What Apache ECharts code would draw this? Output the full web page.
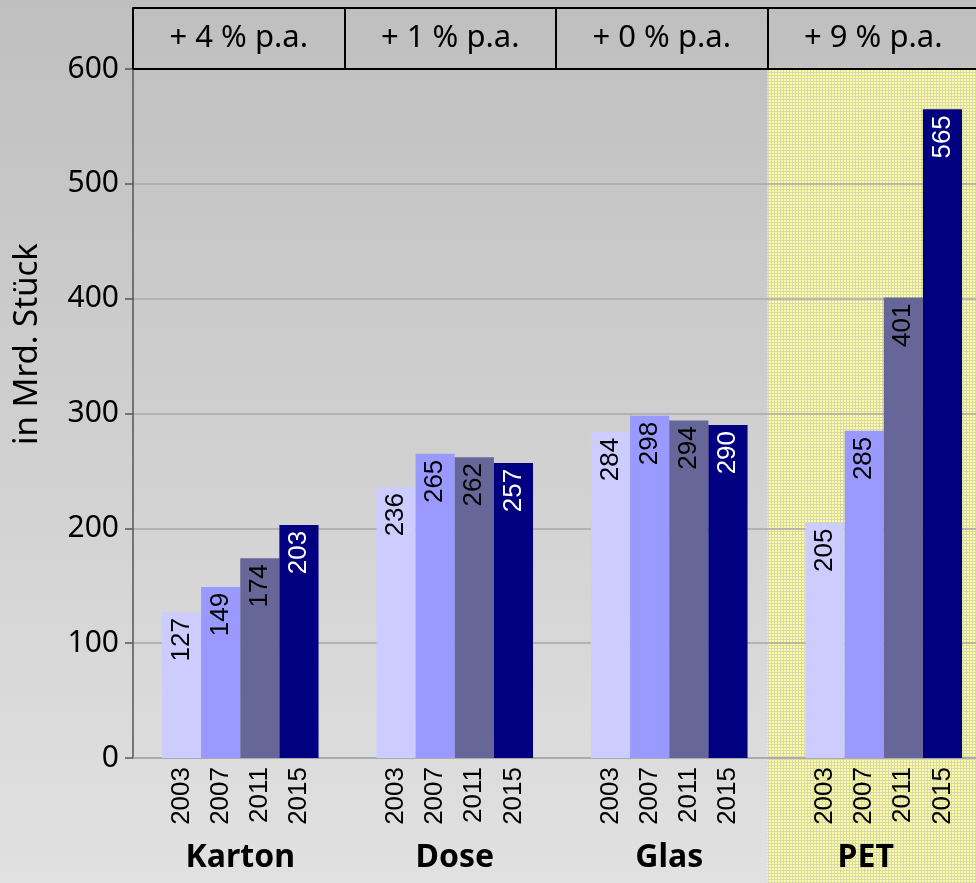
<!DOCTYPE html>
<html>
<head>
<meta charset="utf-8">
<script src="https://cdn.jsdelivr.net/npm/echarts@6/dist/echarts.min.js"></script>
<style>
html, body { margin: 0; padding: 0; }
#chart { width: 976px; height: 883px; }
</style>
</head>
<body>
<div id="chart"></div>
<script>
// Verpackungsarten und jährliche Wachstumsraten
var categories = ['Karton', 'Dose', 'Glas', 'PET'];
var growthLabels = ['+ 4 % p.a.', '+ 1 % p.a.', '+ 0 % p.a.', '+ 9 % p.a.'];
var years = ['2003', '2007', '2011', '2015'];
// Werte in Mrd. Stück, je Jahr
var values2003 = [127, 236, 284, 205];
var values2007 = [149, 265, 298, 285];
var values2011 = [174, 262, 294, 401];
var values2015 = [203, 257, 290, 565];
var yearValues = [values2003, values2007, values2011, values2015];

var barColors = ['#ccccff', '#9999ff', '#666699', '#000080'];
var labelColors = ['#000', '#000', '#000', '#fff'];

var chartW = 976, chartH = 883;
var gridLeft = 133, gridTop = 69, gridBottom = 125, gridWidth = 858;
var headTop = 8, headWidth = 846;
var headBand = headWidth / categories.length;

// gelbes Raster für PET
function makePattern() {
    var c = document.createElement('canvas');
    c.width = 3; c.height = 3;
    var ctx = c.getContext('2d');
    ctx.fillStyle = '#ffff9c';
    ctx.fillRect(0, 0, 3, 3);
    ctx.fillStyle = '#d8d8b0';
    ctx.fillRect(0, 0, 3, 1);
    ctx.fillRect(0, 0, 1, 3);
    return c;
}

var series = [];
years.forEach(function (y, i) {
    series.push({
        name: y,
        type: 'bar',
        xAxisIndex: 0,
        yAxisIndex: 0,
        data: yearValues[i],
        barGap: '0%',
        barCategoryGap: '27%',
        itemStyle: { color: barColors[i] },
        label: {
            show: true,
            position: 'insideTop',
            distance: 6,
            rotate: 90,
            align: 'right',
            verticalAlign: 'middle',
            color: labelColors[i],
            fontSize: 26,
            fontFamily: 'Liberation Sans'
        },
        z: 3
    });
});
// Jahreszahlen unter den Säulen (Null-Säulen auf verdeckter Achse)
years.forEach(function (y, i) {
    series.push({
        name: y + '_label',
        type: 'bar',
        xAxisIndex: 1,
        yAxisIndex: 0,
        data: categories.map(function () { return 0; }),
        barGap: '0%',
        barCategoryGap: '27%',
        itemStyle: { color: 'transparent' },
        silent: true,
        label: {
            show: true,
            position: 'bottom',
            distance: 9,
            rotate: 90,
            align: 'right',
            verticalAlign: 'middle',
            formatter: y,
            color: '#000',
            fontSize: 26,
            fontFamily: 'Liberation Sans'
        }
    });
});

var option = {
    animation: false,
    backgroundColor: {
        type: 'linear', x: 0, y: 0, x2: 0, y2: 1,
        colorStops: [{ offset: 0, color: '#bfbfbf' }, { offset: 1, color: '#e1e1e1' }]
    },
    grid: [
        { left: gridLeft, width: gridWidth, top: gridTop, bottom: gridBottom, outerBoundsMode: 'none', containLabel: false },
        { left: gridLeft, width: headWidth, top: headTop, height: gridTop - headTop, outerBoundsMode: 'none', containLabel: false }
    ],
    xAxis: [{
        type: 'category',
        gridIndex: 0,
        data: categories.map(function (c, i) {
            // PET-Beschriftung mittig im gelben Feld
            return i === 3 ? { value: c, textStyle: { padding: [0, 36, 0, 0] } } : c;
        }),
        position: 'bottom',
        axisLine: { lineStyle: { color: '#a8a8a8', width: 1.5 } },
        axisTick: { show: false },
        axisLabel: {
            margin: 84,
            fontSize: 32,
            fontWeight: 'bold',
            color: '#000',
            fontFamily: 'Noto Sans'
        }
    }, {
        type: 'category',
        gridIndex: 0,
        data: categories,
        position: 'bottom',
        show: false
    }, {
        type: 'category',
        gridIndex: 1,
        data: growthLabels,
        position: 'bottom',
        axisLine: { lineStyle: { color: '#000', width: 2 } },
        axisTick: { show: true, inside: true, length: gridTop - headTop, interval: 0, lineStyle: { color: '#000', width: 2 } },
        axisLabel: {
            inside: true,
            margin: 15,
            fontSize: 31,
            color: '#000',
            fontFamily: 'Noto Sans'
        }
    }, {
        type: 'category',
        gridIndex: 1,
        data: growthLabels,
        position: 'top',
        axisLine: { lineStyle: { color: '#000', width: 2 } },
        axisTick: { show: false },
        axisLabel: { show: false }
    }],
    yAxis: [{
        type: 'value',
        gridIndex: 0,
        min: 0,
        max: 600,
        interval: 100,
        axisLine: { show: true, lineStyle: { color: '#555', width: 1.5 } },
        axisTick: { show: true, length: 8, lineStyle: { color: '#555', width: 1.5 } },
        axisLabel: { margin: 14, fontSize: 30, color: '#000', fontFamily: 'Noto Sans' },
        splitLine: { lineStyle: { color: '#a8a8a8', width: 1.5 } }
    }, {
        type: 'value',
        gridIndex: 1,
        show: false
    }],
    graphic: [{
        type: 'rect',
        z: -1,
        silent: true,
        shape: { x: gridLeft + 3 * headBand, y: gridTop, width: headBand + 5, height: chartH - gridTop },
        style: { fill: { image: makePattern(), repeat: 'repeat' } }
    }, {
        type: 'text',
        x: 28,
        y: 344,
        rotation: Math.PI / 2,
        style: {
            text: 'in Mrd. Stück',
            fontSize: 33,
            fontFamily: 'Noto Sans',
            fill: '#000',
            align: 'center',
            verticalAlign: 'middle'
        }
    }],
    series: series
};

var chart = echarts.init(document.getElementById('chart'));
chart.setOption(option);
</script>
</body>
</html>
